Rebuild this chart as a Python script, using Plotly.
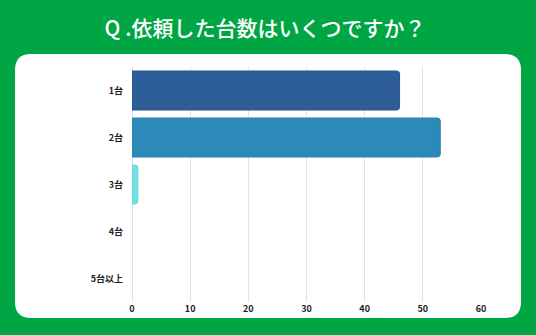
import plotly.graph_objects as go

# Survey answers: how many units were requested
categories = ["1台", "2台", "3台", "4台", "5台以上"]
counts = [46, 53, 1, 0, 0]
bar_colors = ["#2E5E97", "#2B8AB8", "#6FE0E3", "#6FE0E3", "#6FE0E3"]
edge_colors = ["#2A5489", "#2880AE", "#63D6DA", "#63D6DA", "#63D6DA"]
x_ticks = [0, 10, 20, 30, 40, 50, 60]

W, H = 536, 335
L, R, T, B = 132, 55, 67, 33
pw, ph = W - L - R, H - T - B


def px_to_paper(x, y):
    return (x - L) / pw, (H - B - y) / ph


def rounded_card(x0, y0, x1, y1, r):
    # Rounded rectangle given in pixel coordinates, emitted in paper units
    p = lambda x, y: "{:.5f},{:.5f}".format(*px_to_paper(x, y))
    return (
        f"M {p(x0 + r, y0)} L {p(x1 - r, y0)} Q {p(x1, y0)} {p(x1, y0 + r)} "
        f"L {p(x1, y1 - r)} Q {p(x1, y1)} {p(x1 - r, y1)} "
        f"L {p(x0 + r, y1)} Q {p(x0, y1)} {p(x0, y1 - r)} "
        f"L {p(x0, y0 + r)} Q {p(x0, y0)} {p(x0 + r, y0)} Z"
    )


# Zero-length bars get no outline so nothing is drawn for them
edge_widths = [1 if v > 0 else 0 for v in counts]

fig = go.Figure(
    go.Bar(
        x=counts,
        y=categories,
        orientation="h",
        marker=dict(color=bar_colors, line=dict(color=edge_colors, width=edge_widths)),
        hoverinfo="x+y",
    )
)

fig.update_layout(
    width=W,
    height=H,
    margin=dict(l=L, r=R, t=T, b=B, pad=0),
    paper_bgcolor="#00A644",
    plot_bgcolor="rgba(0,0,0,0)",
    bargap=0.17,
    barcornerradius=3,
    showlegend=False,
    font=dict(family="Noto Sans CJK JP", color="#222222", size=9),
    title=dict(
        text="Q .依頼した台数はいくつですか？",
        x=265 / W,
        xref="container",
        xanchor="center",
        y=1 - 28.5 / H,
        yref="container",
        yanchor="middle",
        font=dict(family="Noto Sans CJK JP", size=21, color="#FFFFFF", weight=500),
    ),
    shapes=[
        dict(
            type="path",
            xref="paper",
            yref="paper",
            path=rounded_card(15, 54, 521, 318, 16),
            fillcolor="#FFFFFF",
            line=dict(width=0),
            layer="below",
        )
    ],
    xaxis=dict(
        range=[0, 60],
        tickvals=x_ticks,
        showgrid=True,
        gridcolor="#E3E3E3",
        gridwidth=1,
        zeroline=True,
        zerolinecolor="#E3E3E3",
        zerolinewidth=1,
        showline=False,
        ticks="",
        tickfont=dict(family="Noto Sans CJK JP", size=9, color="#222222", weight="bold"),
        fixedrange=True,
    ),
    yaxis=dict(
        autorange="reversed",
        showgrid=False,
        zeroline=False,
        showline=False,
        ticks="",
        ticklabelstandoff=8,
        tickfont=dict(family="Noto Sans CJK JP", size=9, color="#222222", weight="bold"),
        fixedrange=True,
    ),
)

fig.write_html("out.html")
